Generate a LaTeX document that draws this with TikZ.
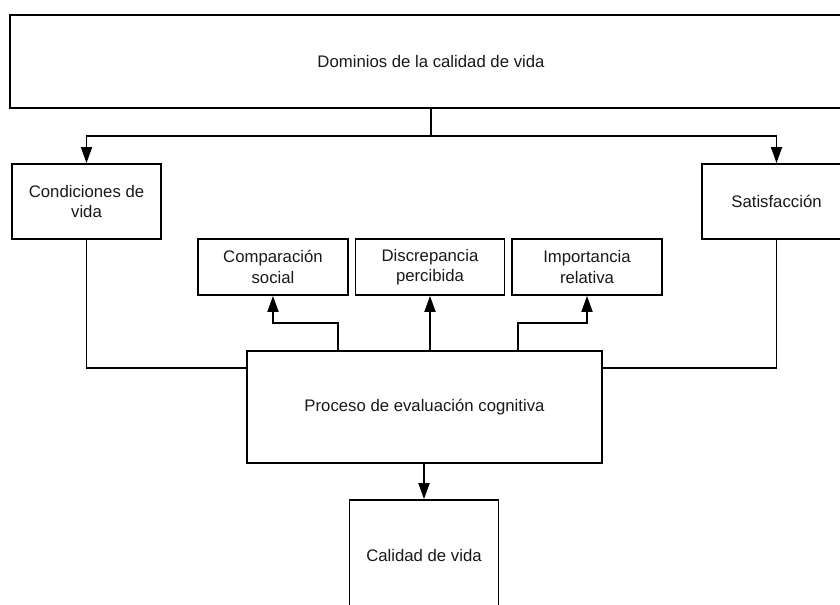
\documentclass[tikz,border=0pt]{standalone}
\usepackage{fontspec}
\setmainfont{Liberation Sans}
\usetikzlibrary{arrows.meta,calc}
\begin{document}
\begin{tikzpicture}[x=1bp,y=-1bp,
  box/.style={draw=black,line width=1.8bp,fill=white,inner sep=0pt,align=center,
    font=\fontsize{16.8}{20.5}\selectfont,text=black!90},
  link/.style={draw=black,line width=1.8bp},
  arr/.style={link,-{Triangle[length=16bp,width=11bp]}}]
\useasboundingbox (0,0) rectangle (840,605);
\clip (0,0) rectangle (840,605);
\node[box,minimum width=842bp,minimum height=93bp] (top) at (431,61.5) {Dominios de la calidad de vida};
\node[box,minimum width=149bp,minimum height=75bp] (cond) at (86.5,201.5) {Condiciones de\\vida};
\node[box,minimum width=149bp,minimum height=75bp] (sat) at (776.5,201.5) {Satisfacción};
\node[box,minimum width=150bp,minimum height=56bp] (comp) at (273,267) {Comparación\\social};
\node[box,minimum width=149bp,minimum height=56bp] (disc) at (430,267) {Discrepancia\\percibida};
\node[box,minimum width=150bp,minimum height=56bp] (imp) at (587,267) {Importancia\\relativa};
\node[box,minimum width=355bp,minimum height=112bp] (proc) at (424.5,407) {Proceso de evaluación cognitiva};
\node[box,minimum width=149bp,minimum height=112bp] (cal) at (424,556) {Calidad de vida};
\coordinate (j) at (431,136);
\draw[link] (top.south) -- (j);
\draw[arr] (j) -| (cond.north);
\draw[arr] (j) -| (sat.north);
\draw[link] (cond.south) |- ($(proc.north west)+(0,18)$);
\draw[link] (sat.south) |- ($(proc.north east)+(0,18)$);
\coordinate (pc) at ($(proc.north west)+(92,0)$);
\coordinate (pi) at ($(proc.north west)+(272,0)$);
\draw[arr] (pc) -- (pc |- 0,323) -| (comp.south);
\draw[arr] (proc.north -| disc.south) -- (disc.south);
\draw[arr] (pi) -- (pi |- 0,323) -| (imp.south);
\draw[arr] (proc.south -| cal.north) -- (cal.north);
\end{tikzpicture}
\end{document}
